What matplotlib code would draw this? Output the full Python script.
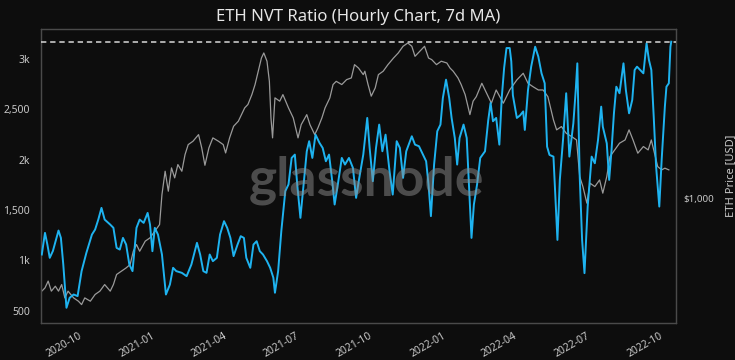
import numpy as np
import matplotlib
matplotlib.use("Agg")
import matplotlib.pyplot as plt
from matplotlib.ticker import FixedLocator, FixedFormatter, NullLocator

# ---- data ----
base_date = np.datetime64("2020-10-01")
x_start = "2020-08-08"
x_end = "2022-10-15"

# NVT ratio (7d MA): day offsets from base_date and values
nvt_day = [-53, -49, -46, -43, -39, -32, -29, -26, -22, -18, -13, -8, -3, 3, 10, 14, 18, 22, 26, 33,
           37, 41, 45, 49, 53, 57, 61, 66, 70, 75, 80, 83, 86, 89, 93, 98, 103, 108, 112, 116,
           123, 129, 135, 142, 146, 150, 154, 158, 162, 167, 171, 176, 180, 184, 188, 193, 197, 201, 204, 209,
           213, 217, 221, 225, 230, 234, 238, 240, 244, 248, 253, 257, 261, 265, 268, 272, 276, 280, 283, 287,
           291, 296, 300, 304, 308, 312, 315, 319, 324, 328, 333, 338, 342, 346, 351, 356, 359, 363, 367, 371,
           375, 379, 384, 388, 393, 397, 401, 405, 412, 416, 421, 426, 430, 433, 436, 440, 444, 448, 451, 455,
           459, 462, 466, 469, 472, 477, 481, 484, 487, 490, 494, 498, 504, 508, 511, 514, 518, 522, 525, 528,
           531, 535, 537, 539, 544, 548, 552, 554, 558, 562, 567, 571, 575, 579, 582, 585, 590, 595, 598, 602,
           606, 610, 615, 618, 620, 623, 626, 629, 633, 638, 642, 646, 650, 652, 657, 660, 663, 666, 669, 673,
           678, 681, 685, 689, 692, 695, 699, 703, 707, 710, 713, 716, 719, 723, 726, 730, 732, 735, 737, 738]
nvt_val = [1059, 1274, 1158, 1026, 1095, 1297, 1224, 960, 530, 629, 662, 646, 894, 1075, 1257, 1307, 1406, 1522, 1406, 1356,
           1324, 1125, 1108, 1224, 1158, 960, 894, 1324, 1406, 1373, 1472, 1356, 1092, 1324, 1257, 1059, 662, 761, 927, 894,
           877, 844, 960, 1175, 1059, 894, 877, 1059, 993, 1026, 1257, 1390, 1324, 1224, 1043, 1158, 1241, 1224, 1026, 927,
           1158, 1191, 1092, 1059, 993, 927, 828, 679, 894, 1291, 1688, 1754, 2018, 2051, 1754, 1423, 1754, 2084, 2184, 2018,
           2249, 2167, 2117, 1985, 2051, 1787, 1555, 1754, 2018, 1952, 2018, 1919, 1621, 1820, 2051, 2415, 2117, 1787, 2117, 2349,
           2084, 2249, 1886, 1654, 2184, 2117, 1820, 2084, 2233, 2150, 2134, 2051, 1985, 1754, 1440, 1952, 2283, 2349, 2613, 2795,
           2613, 2415, 2216, 1952, 2216, 2349, 2216, 1720, 1224, 1555, 1754, 2018, 2084, 2390, 2564, 2382, 2415, 2150, 2613, 2911,
           3109, 3109, 2977, 2640, 2415, 2440, 2480, 2296, 2692, 2924, 3122, 3023, 2858, 2759, 2130, 2048, 2031, 1204, 1800, 2196,
           2660, 2031, 2362, 2692, 2957, 1832, 1204, 874, 1535, 2031, 1965, 2196, 2527, 2329, 2163, 1800, 2097, 2461, 2725, 2660,
           2957, 2692, 2461, 2593, 2891, 2924, 2891, 2858, 3156, 2990, 2891, 2428, 1932, 1535, 2002, 2527, 2725, 2759, 3122, 3172]

# ETH price (USD): day offsets from base_date and values
eth_day = [-53, -49, -45, -41, -36, -32, -28, -24, -20, -13, -7, -3, 1, 8, 14, 20, 26, 33, 37, 41,
           47, 53, 58, 62, 66, 70, 77, 83, 89, 95, 98, 102, 106, 110, 114, 118, 123, 127, 131, 137,
           144, 148, 152, 157, 162, 169, 175, 178, 183, 188, 194, 198, 202, 206, 211, 215, 219, 223, 226, 230,
           233, 235, 237, 240, 246, 250, 257, 263, 269, 273, 280, 284, 290, 294, 299, 303, 309, 313, 317, 324,
           330, 336, 340, 345, 351, 353, 357, 361, 366, 370, 376, 382, 389, 395, 401, 407, 412, 416, 422, 428,
           433, 437, 443, 449, 456, 460, 464, 470, 474, 479, 483, 485, 489, 493, 500, 506, 512, 518, 527, 535,
           544, 552, 558, 564, 571, 577, 583, 590, 594, 600, 606, 613, 619, 623, 627, 632, 636, 642, 648, 652,
           657, 661, 667, 673, 680, 685, 690, 696, 703, 709, 713, 717, 721, 726, 730, 735]
eth_val = [397, 410, 439, 397, 417, 397, 424, 371, 397, 371, 359, 347, 371, 359, 384, 397, 424, 397, 424, 469,
           485, 501, 518, 592, 633, 592, 655, 677, 724, 773, 1044, 1319, 1080, 1364, 1234, 1410, 1319, 1558, 1722, 1781,
           1903, 1666, 1400, 1666, 1842, 1781, 1722, 1584, 1842, 2069, 2177, 2325, 2488, 2572, 2841, 3142, 3590, 4098, 4312, 3969,
           3245, 2250, 1842, 2750, 2660, 2841, 2488, 2250, 1842, 2103, 2325, 2103, 1903, 2035, 2250, 2488, 2750, 3142, 3245, 3142,
           3300, 3358, 3835, 3707, 3470, 3590, 3142, 2797, 3037, 3470, 3590, 3835, 4098, 4312, 4609, 4764, 4609, 4169, 4382, 4609,
           4098, 4033, 3835, 3969, 3900, 3707, 3590, 3358, 3142, 2841, 2488, 2325, 2660, 2782, 3183, 2878, 2607, 2976, 2607, 2976,
           3291, 3518, 3183, 3080, 2976, 2976, 2782, 2205, 1996, 2063, 1930, 1865, 1804, 1250, 1131, 958, 1170, 1131, 1209, 1059,
           1250, 1527, 1633, 1746, 1804, 1996, 1804, 1580, 1689, 1633, 1804, 1580, 1382, 1337, 1360, 1337]

nvt_ticks = [500, 1000, 1500, 2000, 2500, 3000]
nvt_tick_labels = ["500", "1k", "1,500", "2k", "2,500", "3k"]
price_ticks = [1000]
price_tick_labels = ["$1,000"]
date_ticks = ["2020-10-01", "2021-01-01", "2021-04-01", "2021-07-01", "2021-10-01",
              "2022-01-01", "2022-04-01", "2022-07-01", "2022-10-01"]
date_tick_labels = ["2020-10", "2021-01", "2021-04", "2021-07", "2021-10",
                    "2022-01", "2022-04", "2022-07", "2022-10"]
nvt_ref_level = 3165
title = "ETH NVT Ratio (Hourly Chart, 7d MA)"
right_label = "ETH Price [USD]"

# ---- plot ----
bg = "#0d0d0d"
plt.rcParams["font.family"] = ["Noto Sans", "DejaVu Sans"]
fig = plt.figure(figsize=(7.35, 3.6), dpi=100, facecolor=bg)
ax = fig.add_axes([41 / 735, 1 - 322.5 / 360, (676 - 41) / 735, (322.5 - 29) / 360])
ax.set_facecolor(bg)
ax2 = ax.twinx()

nvt_dates = base_date + np.array(nvt_day).astype("timedelta64[D]")
eth_dates = base_date + np.array(eth_day).astype("timedelta64[D]")

ax2.plot(eth_dates, eth_val, color="#9a9a9a", lw=0.9, zorder=2)
ax.plot(nvt_dates, nvt_val, color="#1eb3f0", lw=1.4, zorder=3)
ax.axhline(nvt_ref_level, color="#d8d8d8", lw=1.1, ls=(0, (3.5, 2.5)), zorder=4)

# draw price axis beneath the NVT axis
ax.set_zorder(ax2.get_zorder() + 1)
ax.patch.set_visible(False)
ax2.patch.set_facecolor(bg)
ax2.patch.set_visible(True)

ax.set_xlim(np.datetime64(x_start), np.datetime64(x_end))
ax.set_ylim(384, 3298)
ax2.set_yscale("log")
ax2.set_ylim(290, 5480)

ax.yaxis.set_major_locator(FixedLocator(nvt_ticks))
ax.yaxis.set_major_formatter(FixedFormatter(nvt_tick_labels))
ax2.yaxis.set_major_locator(FixedLocator(price_ticks))
ax2.yaxis.set_major_formatter(FixedFormatter(price_tick_labels))
ax2.yaxis.set_minor_locator(NullLocator())

xt = [np.datetime64(d) for d in date_ticks]
ax.set_xticks(xt)
ax.set_xticklabels(date_tick_labels, rotation=30, ha="right", rotation_mode="default")

tick_color = "#c8c8c8"
ax.tick_params(axis="x", length=0, pad=6, labelsize=7.5, colors=tick_color)
ax.tick_params(axis="y", length=0, pad=8, labelsize=7.5, colors=tick_color)
ax2.tick_params(axis="y", length=0, pad=5, labelsize=7, colors=tick_color)

for a in (ax, ax2):
    for s in a.spines.values():
        s.set_color("#4a4a4a")
        s.set_linewidth(0.9)

ax2.set_ylabel(right_label, color=tick_color, fontsize=8, labelpad=8)
ax.set_title(title, color="#e6e6e6", fontsize=12, pad=6)

ax.text(0.513, 0.486, "glassnode", transform=ax.transAxes, ha="center", va="center",
        fontsize=38.5, fontweight="bold", color="#8c8c8c", alpha=0.5, zorder=5, family="Lato")

fig.savefig("out.png", dpi=100, facecolor=bg)
